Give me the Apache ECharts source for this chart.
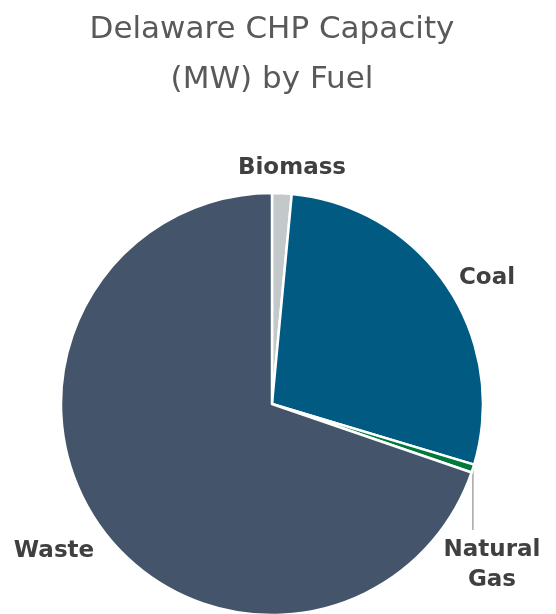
<!DOCTYPE html>
<html>
<head>
<meta charset="utf-8">
<script src="https://cdn.jsdelivr.net/npm/echarts@6/dist/echarts.min.js"></script>
<style>
  html, body { margin: 0; padding: 0; background: #fff; }
  #chart { width: 556px; height: 614px; }
</style>
</head>
<body>
<div id="chart"></div>
<script>
// Delaware CHP capacity (MW) by fuel type
const fuels = ['Biomass', 'Coal', 'Natural Gas', 'Waste'];
const capacityMW = [6, 113, 2.5, 280];
const fuelColors = ['#C3C9CA', '#005A82', '#00793A', '#44546A'];
const labelTexts = ['Biomass', 'Coal', 'Natural\nGas', 'Waste'];

const chart = echarts.init(document.getElementById('chart'), null, { renderer: 'canvas' });

// Label anchor positions (px) for each slice label
const labelSpots = [
  { x: 292, y: 168 },
  { x: 487, y: 278 },
  { x: 492, y: 565 },
  { x: 54,  y: 551 }
];

chart.setOption({
  animation: false,
  title: {
    text: 'Delaware CHP Capacity\n(MW) by Fuel',
    left: 272,
    top: 0,
    textAlign: 'center',
    padding: [5, 0, 0, 0],
    textStyle: {
      fontFamily: 'DejaVu Sans',
      fontWeight: 'normal',
      fontSize: 31,
      lineHeight: 50,
      color: '#595959'
    }
  },
  series: [{
    type: 'pie',
    center: [272, 404],
    radius: ['0%', 211],
    startAngle: 90,
    clockwise: true,
    avoidLabelOverlap: false,
    itemStyle: { borderColor: '#ffffff', borderWidth: 2.5 },
    data: fuels.map((name, i) => ({
      name,
      value: capacityMW[i],
      itemStyle: { color: fuelColors[i] },
      label: { formatter: labelTexts[i] },
      labelLine: { show: i === 2 }
    })),
    label: {
      show: true,
      position: 'outside',
      fontFamily: 'DejaVu Sans',
      fontWeight: 'bold',
      fontSize: 23,
      lineHeight: 30,
      color: '#404040'
    },
    labelLine: {
      show: true,
      length: 10,
      length2: 0,
      lineStyle: { color: '#A6A6A6', width: 1.5 }
    },
    labelLayout: function (params) {
      const s = labelSpots[params.dataIndex];
      const out = { x: s.x, y: s.y, align: 'center', verticalAlign: 'middle' };
      // The Natural Gas leader drops straight down from the slice edge
      if (params.dataIndex === 2 && params.labelLinePoints) {
        const p0 = params.labelLinePoints[0];
        const top = s.y - params.labelRect.height / 2;
        out.labelLinePoints = [[p0[0], p0[1]], [p0[0], top - 5]];
      }
      return out;
    }
  }]
});
</script>
</body>
</html>
